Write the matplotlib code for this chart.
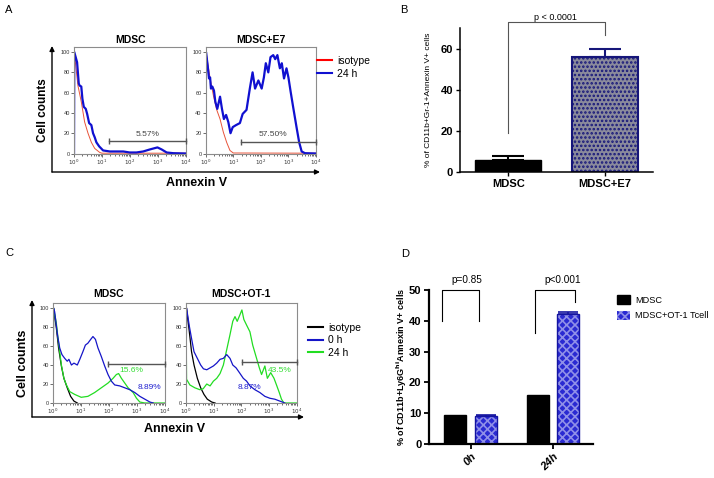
import numpy as np
import matplotlib
matplotlib.use("Agg")
import matplotlib.pyplot as plt
from matplotlib import font_manager
from matplotlib.patches import FancyArrowPatch, Patch
from matplotlib.lines import Line2D

plt.rcParams['font.family'] = ['Liberation Sans', 'DejaVu Sans']
plt.rcParams['hatch.linewidth'] = 1.2

installed = {f.name for f in font_manager.fontManager.ttflist}
NARROW = 'Liberation Sans Narrow' if 'Liberation Sans Narrow' in installed else 'Liberation Sans'
narrow_size = 1.0 if NARROW == 'Liberation Sans Narrow' else 0.82

# ---- Data: panel A histograms (x in decades of Annexin V, y = % of max) ----
a_mdsc_x = [0.0, 0.01, 0.11, 0.17, 0.20, 0.26, 0.30, 0.35, 0.42, 0.47, 0.54, 0.62, 0.68, 0.74,
            0.80, 0.90, 1.04, 1.28, 1.52, 1.76, 1.99, 2.23, 2.47, 2.71, 2.98, 3.13, 3.31, 3.55, 4.0]
a_mdsc_24h = [0, 100, 90, 69, 67, 66, 54, 46, 44, 39, 30, 28, 20, 16,
              11, 7, 3, 2, 2, 2, 1, 1, 2, 4, 6, 4, 1, 0.3, 0]
a_mdsc_iso_x = [0.0, 0.01, 0.14, 0.26, 0.38, 0.50, 0.62, 0.74, 0.92, 1.0, 4.0]
a_mdsc_iso = [0, 100, 67, 51, 31, 20, 11, 5, 1, 0.3, 0.3]

a_e7_x = [0.0, 0.01, 0.07, 0.12, 0.16, 0.19, 0.24, 0.30, 0.35, 0.42, 0.52, 0.59, 0.66, 0.74, 0.82,
          0.90, 0.98, 1.10, 1.24, 1.34, 1.48, 1.60, 1.70, 1.79, 1.91, 2.03, 2.11, 2.18, 2.27, 2.35,
          2.45, 2.52, 2.60, 2.69, 2.76, 2.84, 2.93, 3.00, 3.08, 3.17, 3.30, 3.39, 3.48, 3.60, 4.0]
a_e7_24h = [0, 100, 87, 74, 75, 64, 66, 62, 51, 44, 56, 44, 34, 38, 31,
            20, 26, 28, 30, 39, 43, 64, 80, 64, 72, 64, 75, 89, 80, 95,
            97, 93, 97, 84, 89, 74, 84, 75, 61, 46, 25, 11, 2, 0.3, 0]
a_e7_iso_x = [0.0, 0.01, 0.16, 0.28, 0.40, 0.52, 0.64, 0.76, 0.88, 1.0, 4.0]
a_e7_iso = [0, 100, 74, 57, 43, 34, 21, 11, 3, 0.5, 0.3]

# ---- Data: panel C histograms ----
c_mdsc_iso_x = [0.0, 0.02, 0.12, 0.20, 0.30, 0.39, 0.51, 0.63, 0.75, 0.87]
c_mdsc_iso = [0, 100, 79, 58, 39, 26, 16, 7, 2, 0]
c_mdsc_0h_x = [0.0, 0.02, 0.06, 0.16, 0.24, 0.32, 0.42, 0.51, 0.57, 0.66, 0.75, 0.87, 0.96, 1.07,
               1.16, 1.25, 1.35, 1.43, 1.52, 1.61, 1.73, 1.85, 1.97, 2.09, 2.21, 2.39, 2.57,
               2.75, 2.93, 3.11, 3.29, 3.47, 3.59]
c_mdsc_0h = [0, 100, 96, 72, 58, 51, 47, 44, 46, 40, 42, 40, 46, 54,
             61, 63, 67, 70, 67, 58, 49, 39, 30, 23, 19, 18, 16,
             14, 11, 7, 4, 1, 0]
c_mdsc_24h_x = [0.0, 0.02, 0.12, 0.18, 0.24, 0.30, 0.39, 0.48, 0.60, 0.78, 1.01, 1.25, 1.49, 1.73,
                1.97, 2.15, 2.27, 2.35, 2.45, 2.57, 2.69, 2.87, 2.99, 3.11, 3.29, 4.0]
c_mdsc_24h = [0, 100, 84, 68, 54, 40, 26, 19, 12, 9, 6, 7, 11, 16,
              21, 26, 30, 31, 26, 21, 16, 11, 5, 1, 0, 0]

c_ot1_iso_x = [0.0, 0.02, 0.12, 0.20, 0.29, 0.41, 0.53, 0.65, 0.77, 0.93, 1.05]
c_ot1_iso = [0, 100, 75, 54, 40, 26, 16, 9, 4, 1, 0]
c_ot1_0h_x = [0.0, 0.02, 0.12, 0.20, 0.29, 0.41, 0.53, 0.63, 0.75, 0.87, 0.99, 1.11, 1.23, 1.35,
              1.47, 1.59, 1.69, 1.81, 1.93, 2.07, 2.19, 2.31, 2.49, 2.67, 2.85, 3.03, 3.21,
              3.39, 3.57]
c_ot1_0h = [0, 100, 81, 68, 54, 47, 40, 36, 35, 37, 39, 42, 46, 47,
            51, 47, 40, 37, 32, 26, 23, 18, 14, 11, 7, 5, 4,
            2, 0]
c_ot1_24h_x = [0.0, 0.0, 0.02, 0.14, 0.32, 0.50, 0.62, 0.75, 0.87, 0.99, 1.11, 1.23, 1.35, 1.47,
               1.59, 1.69, 1.77, 1.85, 1.95, 2.02, 2.09, 2.19, 2.31, 2.41, 2.53, 2.65, 2.73,
               2.85, 2.94, 3.06, 3.18, 3.27, 3.37, 3.45, 3.54, 4.0]
c_ot1_24h = [0, 100, 25, 19, 16, 14, 15, 20, 18, 23, 26, 31, 40, 56,
             72, 86, 91, 86, 93, 98, 88, 82, 75, 61, 49, 37, 30,
             39, 26, 32, 26, 19, 11, 4, 0, 0]

# gates: (start decade, end decade, height)
a_gates = [(1.26, 4.0, 12), (1.27, 4.0, 11.5)]
a_gate_labels = ['5.57%', '57.50%']
c_gates = [(1.97, 4.0, 41), (2.01, 4.0, 43)]
c_green_labels = ['15.6%', '43.5%']
c_blue_labels = ['8.89%', '8.87%']

# ---- Data: panel B bars ----
b_groups = ['MDSC', 'MDSC+E7']
b_means = [5.9, 56.1]
b_err = [1.9, 3.7]

# ---- Data: panel D grouped bars ----
d_times = ['0h', '24h']
d_mdsc = [9.3, 15.8]
d_ot1 = [9.2, 42.2]
d_ot1_err = [0.2, 0.8]
d_pvals = ['p=0.85', 'p<0.001']

W, H = 714, 478
fig = plt.figure(figsize=(W / 100, H / 100), dpi=100)


def box(x0, y0, x1, y1):
    return [x0 / W, 1 - y1 / H, (x1 - x0) / W, (y1 - y0) / H]


def fx(x):
    return x / W


def fy(y):
    return 1 - y / H


def hist_axes(b, title, title_y):
    ax = fig.add_axes(box(*b))
    ax.set_xlim(0, 4)
    ax.set_ylim(0, 105)
    ax.set_xticks(range(5))
    ax.set_xticklabels([f'$10^{{{i}}}$' for i in range(5)], fontsize=4)
    ax.set_xticks([d + np.log10(k) for d in range(4) for k in range(2, 10)], minor=True)
    ax.set_yticks(range(0, 101, 20))
    ax.set_yticklabels([str(v) for v in range(0, 101, 20)], fontsize=4)
    ax.tick_params(which='both', length=2, width=0.5, pad=1, colors='#333333')
    ax.tick_params(which='minor', length=1.2)
    for s in ax.spines.values():
        s.set_color('#8c8c8c')
        s.set_linewidth(0.8)
    fig.text(fx((b[0] + b[2]) / 2), fy(title_y), title, ha='center', va='center',
             fontsize=7.5, fontweight='bold')
    return ax


def gate(ax, g, color='#555555'):
    ax.plot([g[0], g[1]], [g[2], g[2]], color=color, lw=1.0, marker='|', ms=4,
            mew=1.0, clip_on=False, zorder=5)


def arrow(p0, p1):
    fig.add_artist(FancyArrowPatch((fx(p0[0]), fy(p0[1])), (fx(p1[0]), fy(p1[1])),
                                   transform=fig.transFigure, arrowstyle='-|>',
                                   mutation_scale=7, lw=1.0, color='black',
                                   shrinkA=0, shrinkB=0))


# ---- Panel A ----
ax = hist_axes((74, 47, 186, 153.5), 'MDSC', 40)
ax.plot(a_mdsc_iso_x, a_mdsc_iso, color='#e8543a', lw=0.7)
ax.plot(a_mdsc_x, a_mdsc_24h, color='#1010d0', lw=1.6)
gate(ax, a_gates[0])
ax.text(2.62, 19, a_gate_labels[0], fontsize=6, color='#444444', ha='center', va='center')

ax = hist_axes((205.7, 47, 316, 153.5), 'MDSC+E7', 40)
ax.plot(a_e7_iso_x, a_e7_iso, color='#e8543a', lw=0.7)
ax.plot(a_e7_x, a_e7_24h, color='#1010d0', lw=1.6)
gate(ax, a_gates[1])
ax.text(2.45, 19, a_gate_labels[1], fontsize=6, color='#444444', ha='center', va='center')

arrow((52, 172), (52, 46))
arrow((52, 172), (320, 172))
fig.text(fx(43), fy(110), 'Cell counts', rotation=90, ha='center', va='center',
         fontsize=8.5, fontweight='bold')
fig.text(fx(197), fy(183), 'Annexin V', ha='center', va='center',
         fontsize=9, fontweight='bold')
fig.legend(handles=[Line2D([], [], color='red', lw=1.5), Line2D([], [], color='#1010d0', lw=1.5)],
           labels=['isotype', '24 h'], loc='upper left', bbox_to_anchor=(fx(317), fy(56)),
           frameon=False, fontsize=7.5, handlelength=1.45, handletextpad=0.5,
           labelspacing=0.3, borderpad=0, borderaxespad=0)

# ---- Panel C ----
ax = hist_axes((53, 303.3, 164.7, 403), 'MDSC', 294)
ax.plot(c_mdsc_iso_x, c_mdsc_iso, color='black', lw=0.9)
ax.plot(c_mdsc_24h_x, c_mdsc_24h, color='#22dd22', lw=0.9)
ax.plot(c_mdsc_0h_x, c_mdsc_0h, color='#1515c8', lw=0.9)
gate(ax, c_gates[0])
ax.text(2.8, 34, c_green_labels[0], fontsize=6, color='#33dd33', ha='center', va='center')
ax.text(3.46, 16, c_blue_labels[0], fontsize=6, color='#2020d0', ha='center', va='center')

ax = hist_axes((186, 303.3, 296.7, 403), 'MDSC+OT-1', 294)
ax.plot(c_ot1_iso_x, c_ot1_iso, color='black', lw=0.9)
ax.plot(c_ot1_24h_x, c_ot1_24h, color='#22dd22', lw=0.9)
ax.plot(c_ot1_0h_x, c_ot1_0h, color='#1515c8', lw=0.9)
gate(ax, c_gates[1])
ax.text(3.4, 34, c_green_labels[1], fontsize=6, color='#33dd33', ha='center', va='center')
ax.text(2.31, 16, c_blue_labels[1], fontsize=6, color='#2020d0', ha='center', va='center')

arrow((32, 417), (32, 300))
arrow((32, 417), (304, 417))
fig.text(fx(23), fy(363), 'Cell counts', rotation=90, ha='center', va='center',
         fontsize=9, fontweight='bold')
fig.text(fx(175), fy(429), 'Annexin V', ha='center', va='center',
         fontsize=9, fontweight='bold')
fig.legend(handles=[Line2D([], [], color='black', lw=1.5), Line2D([], [], color='#1515c8', lw=1.5),
                    Line2D([], [], color='#22dd22', lw=1.5)],
           labels=['isotype', '0 h', '24 h'], loc='upper left', bbox_to_anchor=(fx(308), fy(323)),
           frameon=False, fontsize=7.5, handlelength=1.45, handletextpad=0.5,
           labelspacing=0.22, borderpad=0, borderaxespad=0)

# ---- Panel B ----
axb = fig.add_axes(box(460, 28, 653, 172))
xb = np.arange(len(b_groups))
axb.bar(xb[0], b_means[0], width=0.68, color='black', edgecolor='black')
axb.bar(xb[1], b_means[1], width=0.68, color='#8a8a9c', edgecolor='#16167a',
        hatch='....', lw=1.5)
axb.errorbar(xb[0], b_means[0], yerr=[[0], [b_err[0]]], fmt='none', ecolor='black',
             capsize=11.5, elinewidth=1.5, capthick=1.5)
axb.errorbar(xb[1], b_means[1], yerr=[[0], [b_err[1]]], fmt='none', ecolor='#16167a',
             capsize=11.5, elinewidth=1.5, capthick=1.5)
axb.set_xlim(-0.5, 1.5)
axb.set_ylim(0, 70)
axb.set_yticks([0, 20, 40, 60])
axb.set_xticks(xb)
axb.set_xticklabels(b_groups, fontsize=8, fontweight='bold')
for t in axb.get_yticklabels():
    t.set_fontweight('bold')
    t.set_fontsize(8)
axb.tick_params(length=3, width=1, pad=2)
axb.spines[['top', 'right']].set_visible(False)
axb.spines[['left', 'bottom']].set_linewidth(1.1)
axb.plot([0, 0, 1, 1], [19, 72.7, 72.7, 66.8], color='#555555', lw=0.8, clip_on=False)
axb.text(0.49, 75.2, 'p < 0.0001', ha='center', va='center', fontsize=6.5)
fig.text(fx(428), fy(100), '% of CD11b+Gr-1+Annexin V+ cells', rotation=90,
         ha='center', va='center', fontsize=6)

# ---- Panel D ----
axd = fig.add_axes(box(429, 290, 593, 444))
xd = np.arange(len(d_times))
off, bw = 0.187, 0.267
axd.bar(xd - off, d_mdsc, width=bw, color='black', edgecolor='black')
axd.bar(xd + off, d_ot1, width=bw, color='#2a2ad2', edgecolor='#8f8fe8', hatch='xxxx', lw=0)
axd.bar(xd + off, d_ot1, width=bw, fill=False, edgecolor='#1414a0', lw=1.0)
axd.errorbar(xd + off, d_ot1, yerr=[[0, 0], d_ot1_err], fmt='none', ecolor='#1414a0',
             capsize=7, elinewidth=1.2, capthick=1.2)
axd.set_xlim(-0.508, 1.486)
axd.set_ylim(0, 50)
axd.set_yticks(range(0, 51, 10))
axd.set_xticks(xd)
axd.set_xticklabels(d_times, rotation=45, ha='right', rotation_mode='anchor',
                    fontsize=8, fontweight='bold', fontstyle='italic')
for t in axd.get_yticklabels():
    t.set_fontweight('bold')
    t.set_fontsize(8)
axd.tick_params(length=3.5, width=1.3, pad=2)
axd.spines[['top', 'right']].set_visible(False)
axd.spines[['left', 'bottom']].set_linewidth(1.6)
axd.plot([-0.35, -0.35, 0.10, 0.10], [40, 50, 50, 40], color='black', lw=0.8, clip_on=False)
axd.plot([0.78, 0.78, 1.27, 1.27], [36, 50, 50, 46], color='black', lw=0.8, clip_on=False)
axd.text(-0.05, 53.2, d_pvals[0], ha='center', va='center', fontsize=7.2, family=NARROW)
axd.text(1.12, 53.2, d_pvals[1], ha='center', va='center', fontsize=7.2, family=NARROW)
fig.text(fx(402), fy(367), r'% of CD11b+Ly6G$^{\mathbf{hi}}$Annexin V+ cells', rotation=90,
         ha='center', va='center', fontsize=6.5, fontweight='bold')
fig.legend(handles=[Patch(facecolor='black', edgecolor='black'),
                    Patch(facecolor='#2a2ad2', edgecolor='#8f8fe8', hatch='xxxx', lw=0)],
           labels=['MDSC', 'MDSC+OT-1 Tcell'], loc='upper left', bbox_to_anchor=(fx(617), fy(295)),
           frameon=False, prop={'family': NARROW, 'size': 8 * narrow_size},
           handlelength=1.45, handleheight=1.15,
           handletextpad=0.5, labelspacing=0.65, borderpad=0, borderaxespad=0)

# ---- Panel letters ----
for lab, (x, y) in zip('ABCD', [(9, 10), (404, 10), (9, 253), (405, 254)]):
    fig.text(fx(x), fy(y), lab, ha='center', va='center', fontsize=8)

fig.savefig('out.png', dpi=100)
